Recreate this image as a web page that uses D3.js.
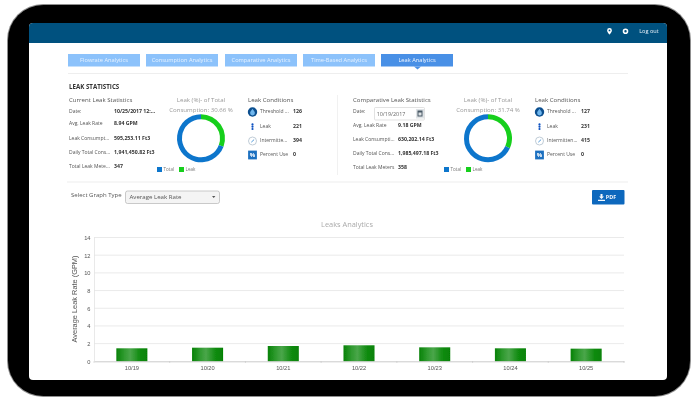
<!DOCTYPE html>
<html><head><meta charset="utf-8">
<script src="https://cdn.jsdelivr.net/npm/d3@7"></script>
<style>html,body{margin:0;padding:0;background:#fff}svg{display:block}text{font-family:"Open Sans",sans-serif}</style>
</head><body><svg id="c" width="700" height="402"></svg>
<script>
const categories=["10/19","10/20","10/21","10/22","10/23","10/24","10/25"];
const leakRates=[1.47,1.54,1.73,1.81,1.58,1.47,1.43];
const yTicks=[0,2,4,6,8,10,12,14];
const tabs=["Flowrate Analytics","Consumption Analytics","Comparative Analytics","Time-Based Analytics","Leak Analytics"];
const leftLabels=["Date:","Avg. Leak Rate","Leak Consumpt...","Daily Total Cons...","Total Leak Mete..."];
const leftValues=["10/25/2017 12:...","8.94 GPM","595,253.11 Ft3","1,941,450.82 Ft3","347"];
const rightLabels=["Date:","Avg. Leak Rate","Leak Consumpti...","Daily Total Cons...","Total Leak Meters"];
const rightValues=["","9.18 GPM","630,202.14 Ft3","1,985,497.18 Ft3","358"];
const leftCondLabels=["Threshold ...","Leak","Intermitte...","Percent Use"];
const leftCondValues=[126,221,394,0];
const rightCondLabels=["Threshold ...","Leak","Intermitten...","Percent Use"];
const rightCondValues=[127,231,415,0];
const leftPct=30.66, rightPct=31.74;

const svg=d3.select("#c");
const defs=svg.append("defs");
const g=defs.append("linearGradient").attr("id","bar");
[[0,"#078207"],[.25,"#2f9a2f"],[.45,"#4aa64a"],[.75,"#128c12"],[1,"#058205"]].forEach(s=>g.append("stop").attr("offset",s[0]).attr("stop-color",s[1]));
defs.append("filter").attr("id","soft").append("feGaussianBlur").attr("stdDeviation",0.32);
const root=svg.append("g").attr("filter","url(#soft)");

function T(x,y,s,o={}){return root.append("text").attr("x",x).attr("y",y).attr("dominant-baseline","middle")
 .attr("font-size",o.size||5).attr("font-weight",o.bold?700:400).attr("fill",o.fill||"#555").attr("text-anchor",o.anchor||"start").text(s);}
function R(x,y,w,h,f,o={}){return root.append("rect").attr("x",x).attr("y",y).attr("width",w).attr("height",h).attr("fill",f).attr("rx",o.rx||0).attr("stroke",o.stroke||"none").attr("stroke-width",o.sw||0);}

// device
R(7,4,684,393,"#8f8f8f",{rx:36});
R(8,5,682,391,"#000",{rx:35});
root.append("path").attr("d","M29 27a4 4 0 0 1 4-4H663a4 4 0 0 1 4 4V376a4 4 0 0 1-4 4H33a4 4 0 0 1-4-4Z").attr("fill","#fff");
root.append("path").attr("d","M29 27a4 4 0 0 1 4-4H663a4 4 0 0 1 4 4V43H29Z").attr("fill","#00517f");
T(649,31.5,"Log out",{fill:"#e8f2fa",size:5.6,anchor:"middle"});
// header icons
root.append("path").attr("d","M609.5 28a2.4 2.4 0 0 1 2.4 2.4c0 1.6-2.4 4.2-2.4 4.2s-2.4-2.6-2.4-4.2a2.4 2.4 0 0 1 2.4-2.4Z").attr("fill","#fff");
root.append("circle").attr("cx",609.5).attr("cy",30.4).attr("r",.9).attr("fill","#00517f");
root.append("circle").attr("cx",625.5).attr("cy",31.3).attr("r",2).attr("fill","none").attr("stroke","#fff").attr("stroke-width",1.6);

// tabs
const tabX=[68,146,225,303,381];
tabs.forEach((t,i)=>{const on=i===4;
 R(tabX[i],54,72,12.5,on?"#4a90e6":"#8cc2fb");
 T(tabX[i]+36,60.5,t,{anchor:"middle",fill:on?"#f0f6ff":"#e6f2ff",size:5.7});
});
root.append("path").attr("d","M414 66.5h7l-3.5 3Z").attr("fill","#4a90e6");
R(68,73,560,1,"#eeeeee");
T(69,87.3,"LEAK STATISTICS",{bold:true,size:6.2,fill:"#333"});
R(337,95,.8,80,"#eeeeee");
R(67,181.5,561,1,"#eeeeee");

function panel(o){
 T(o.x,100.7,o.head,{size:6.1});
 o.labels.forEach((l,i)=>T(o.x,o.rows[i],l,{size:5}));
 o.values.forEach((v,i)=>v&&T(o.vx,o.rows[i],v,{bold:true,size:5.2,fill:"#333"}));
 T(o.cx,100.7,"Leak (%)- of Total",{anchor:"middle",fill:"#999",size:6.1});
 T(o.cx,110,"Consumption: "+o.pct+" %",{anchor:"middle",fill:"#999",size:6.1});
 const a=d3.arc().innerRadius(19).outerRadius(24);
 const pie=d3.pie().sort(null)([o.pct,100-o.pct]);
 root.append("g").attr("transform",`translate(${o.cx},138.3)`).selectAll("path").data(pie).join("path")
  .attr("d",a).attr("fill",(d,i)=>i?"#0f76cc":"#19cf1c");
 R(o.cx-44,167,5,5,"#0f76cc"); T(o.cx-37.5,169.8,"Total",{size:4.6,fill:"#777"});
 R(o.cx-22,167,5,5,"#19cf1c"); T(o.cx-15.5,169.8,"Leak",{size:4.6,fill:"#777"});
 T(o.condX,100.7,"Leak Conditions",{size:6.1});
 const ry=[112,126.7,141,155];
 o.condLabels.forEach((l,i)=>{T(o.condX+12,ry[i],l,{size:5});T(o.condVx,ry[i],o.condValues[i],{bold:true,size:5.2,fill:"#333"});});
 const ix=o.condX+4.5;
 root.append("circle").attr("cx",ix).attr("cy",112).attr("r",4.7).attr("fill","#0b4f8f");
 root.append("path").attr("d",`M${ix} 108.8c1.6 2.2 2.4 3.3 2.4 4.3a2.4 2.4 0 0 1-4.8 0c0-1 .8-2.1 2.4-4.3Z`).attr("fill","#6fb7ee");
 [124.4,126.7,129].forEach(y=>root.append("circle").attr("cx",ix).attr("cy",y).attr("r",1.1).attr("fill","#0a4fc0"));
 root.append("circle").attr("cx",ix).attr("cy",141).attr("r",4).attr("fill","#fff").attr("stroke","#b9c6d2").attr("stroke-width",.9);
 root.append("path").attr("d",`M${ix-1.2} 142.2L${ix+1.6} 139.6`).attr("stroke","#3d8fd6").attr("stroke-width",.9);
 R(ix-4.4,150.6,8.8,8.8,"#1d70c0");
 T(ix,155.2,"%",{anchor:"middle",fill:"#fff",size:6,bold:true});
}
panel({x:69,vx:114,head:"Current Leak Statistics",labels:leftLabels,values:leftValues,rows:[112,124,138.5,153,167],
 cx:201,pct:leftPct,condX:248,condVx:293,condLabels:leftCondLabels,condValues:leftCondValues});
panel({x:353,vx:398,head:"Comparative Leak Statistics",labels:rightLabels,values:rightValues,rows:[112,126,140,154,168],
 cx:488,pct:rightPct,condX:535,condVx:581,condLabels:rightCondLabels,condValues:rightCondValues});
// date input
R(374.5,107.5,50,12.5,"#fff",{stroke:"#d5d5d5",sw:.7,rx:1});
T(376.7,114.2,"10/19/2017",{size:5.4,fill:"#666"});
R(416,109,8,9.5,"#dfe3e6");
R(417.5,110.5,5,6,"#4a5a66");
R(418.5,112.5,3,3,"#dfe3e6");

// select row
T(71,195.8,"Select Graph Type",{size:6,fill:"#555"});
R(125.5,191,94,12.5,"#f4f4f4",{stroke:"#b5b5b5",sw:.7,rx:2});
T(129.5,197.3,"Average Leak Rate",{size:6.1,fill:"#555"});
root.append("path").attr("d","M212 196h3.4l-1.7 2Z").attr("fill","#555");
R(592,190,32.5,14.5,"#0f68bd",{rx:1});
T(611,197.5,"PDF",{size:5.4,fill:"#f2f7fc",anchor:"middle",bold:true});
root.append("path").attr("d","M600.5 194h2v2.4h1.5l-2.5 2.6-2.5-2.6h1.5Z M598 199.8h7v1.2h-7Z").attr("fill","#f2f7fc");

// chart
const x=d3.scaleBand().domain(categories).range([94,624]).paddingInner(.59).paddingOuter(.295);
const xOuter=d3.scaleBand().domain(categories).range([94,624]);
const y=d3.scaleLinear().domain([0,14]).range([361.3,237.5]);
T(347,225,"Leaks Analytics",{anchor:"middle",fill:"#aaa",size:7.4});
const gr=root.append("g");
gr.selectAll("line").data(yTicks.slice(1)).join("line").attr("x1",94).attr("x2",624).attr("y1",d=>y(d)).attr("y2",d=>y(d)).attr("stroke","#e8e8e8").attr("stroke-width",.9);
gr.append("line").attr("x1",94.5).attr("x2",94.5).attr("y1",237.5).attr("y2",361.3).attr("stroke","#e3e3e3").attr("stroke-width",.8);
const ya=root.append("g").attr("transform","translate(94,0)").call(d3.axisLeft(y).tickValues(yTicks).tickSize(0).tickPadding(3.5));
ya.select(".domain").remove();
ya.selectAll("text").attr("font-size",5.7).attr("fill","#555").style("font-family","Liberation Sans,sans-serif");
root.append("g").selectAll("rect").data(categories).join("rect")
 .attr("x",d=>x(d)).attr("width",x.bandwidth()).attr("y",(d,i)=>y(leakRates[i])).attr("height",(d,i)=>y(0)-y(leakRates[i])).attr("fill","url(#bar)");
const xa=root.append("g").attr("transform","translate(0,361.3)").call(d3.axisBottom(xOuter).tickSize(0).tickPadding(4.5));
xa.select(".domain").attr("stroke","#bdbdbd").attr("stroke-width",.8);
xa.selectAll("text").attr("font-size",5.7).attr("fill","#555").style("font-family","Liberation Sans,sans-serif");
xa.append("g").selectAll("line").data(d3.range(8)).join("line").attr("x1",i=>94+i*xOuter.step()).attr("x2",i=>94+i*xOuter.step()).attr("y1",0).attr("y2",1.5).attr("stroke","#bdbdbd").attr("stroke-width",.6);
root.append("text").attr("transform","translate(75,299) rotate(-90)").attr("text-anchor","middle").attr("dominant-baseline","middle")
 .attr("font-size",7.4).attr("fill","#555").style("font-family","Liberation Sans,sans-serif").text("Average Leak Rate (GPM)");
</script></body></html>
